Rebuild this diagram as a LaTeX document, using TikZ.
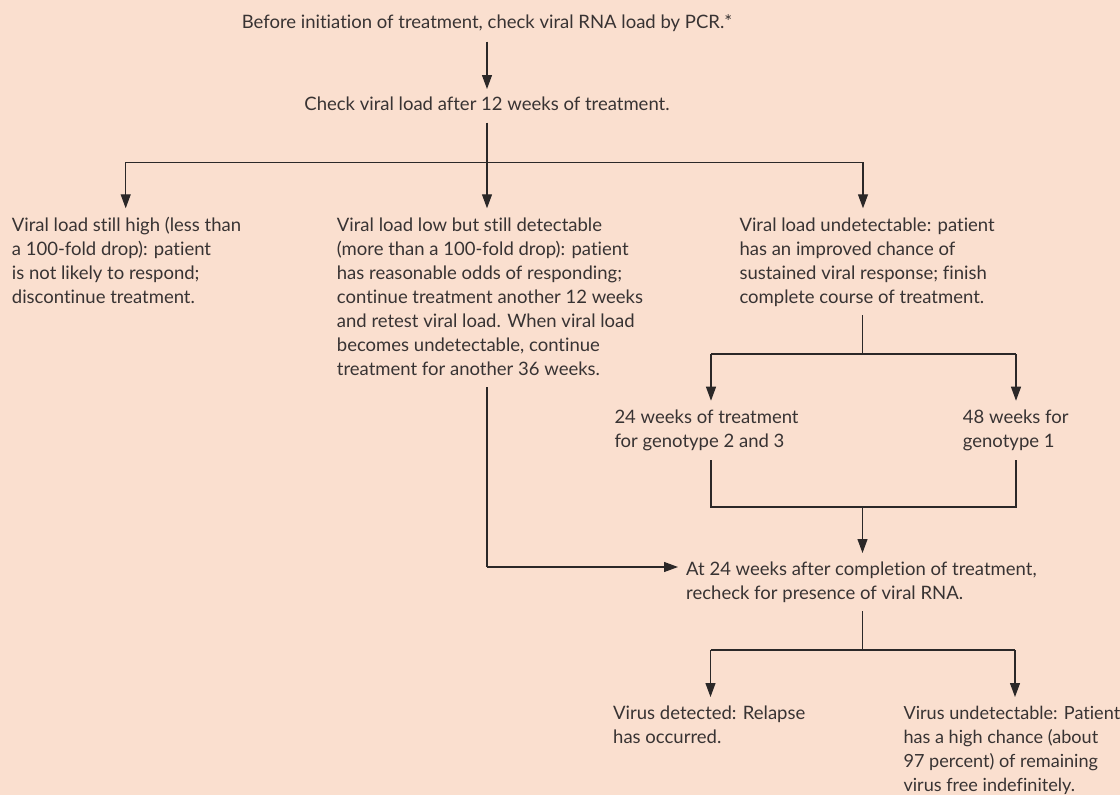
\documentclass[tikz,border=0pt]{standalone}
\usepackage{fontspec}
\setmainfont{Lato}[Ligatures={NoCommon}]
\usetikzlibrary{arrows.meta}
\definecolor{bg}{HTML}{FADFCF}
\definecolor{ink}{HTML}{383333}
\definecolor{wire}{HTML}{2B2828}
\tikzset{
  txt/.style={anchor=base west, align=left, inner sep=0pt, text=ink, font=\fontsize{18.5}{24}\selectfont},
  ctxt/.style={anchor=base, inner sep=0pt, text=ink, font=\fontsize{18.5}{24}\selectfont},
  wln/.style={draw=wire, line width=1.15pt},
  arr/.style={wln, -{Triangle[length=14pt,width=10pt]}},
}
\begin{document}
\begin{tikzpicture}[x=1pt,y=-1pt]
\fill[bg] (0,0) rectangle (1120,795);
\useasboundingbox (0,0) rectangle (1120,795);

% text nodes (anchored at the baseline of their last line)
\node[ctxt] (top) at (487,28) {Before initiation of treatment, check viral RNA load by PCR.*};
\node[ctxt] (check) at (487,110) {Check viral load after 12 weeks of treatment.};
\node[txt] (left) at (11.7,303) {Viral load still high (less than\\a 100-fold drop): patient\\is not likely to respond;\\discontinue treatment.};
\node[txt] (mid) at (336.7,375) {Viral load low but still detectable\\(more than a 100-fold drop): patient\\has reasonable odds of responding;\\continue treatment another 12 weeks\\and retest viral load. When viral load\\becomes undetectable, continue\\treatment for another 36 weeks.};
\node[txt] (right) at (739.3,303) {Viral load undetectable: patient\\has an improved chance of\\sustained viral response; finish\\complete course of treatment.};
\node[txt] (g23) at (614.3,447) {24 weeks of treatment\\for genotype 2 and 3};
\node[txt] (g1) at (962.7,447) {48 weeks for\\genotype 1};
\node[txt] (at24) at (686,599) {At 24 weeks after completion of treatment,\\recheck for presence of viral RNA.};
\node[txt] (det) at (613,743) {Virus detected: Relapse\\has occurred.};
\node[txt, font=\fontsize{18.1}{24}\selectfont] (und) at (903.3,791) {Virus undetectable: Patient\\has a high chance (about\\97 percent) of remaining\\virus free indefinitely.};

% junction coordinates
\coordinate (j1) at (487,162.3);
\coordinate (j1l) at (125.7,162.3);
\coordinate (j1r) at (863,162.3);
\coordinate (j2) at (862.5,354);
\coordinate (j2l) at (711,354);
\coordinate (j2r) at (1016,354);
\coordinate (j3l) at (711,507);
\coordinate (j3r) at (1016,507);
\coordinate (j3) at (862.5,507);
\coordinate (j4) at (487,567);
\coordinate (j5) at (862.5,650);
\coordinate (j5l) at (710.5,650);
\coordinate (j5r) at (1015,650);

% connectors
\draw[arr] ([yshift=-13.7pt]top.base) -- ([yshift=21pt]check.base);
\draw[wln] ([yshift=-12.7pt]check.base) -- (j1);
\draw[wln] (j1l) -- (j1r);
\draw[arr] (j1) -- (j1 |- 0,208.3);
\draw[arr] (j1l) -- (j1l |- 0,208.3);
\draw[arr] (j1r) -- (j1r |- 0,208.3);

\draw[wln] (j2 |- 0,315) -- (j2);
\draw[wln] (j2l) -- (j2r);
\draw[arr] (j2l) -- (j2l |- 0,400.7);
\draw[arr] (j2r) -- (j2r |- 0,400.7);

\draw[wln] (j3l |- 0,460) -- (j3l) -- (j3r) -- (j3r |- 0,460);
\draw[arr] (j3) -- (j3 |- 0,553);

\draw[wln] (j4 |- 0,387) -- (j4);
\draw[arr, shorten >=8pt] (j4) -- (j4 -| at24.west);

\draw[wln] (j5 |- 0,611) -- (j5);
\draw[wln] (j5l) -- (j5r);
\draw[arr] (j5l) -- (j5l |- 0,697);
\draw[arr] (j5r) -- (j5r |- 0,697);
\end{tikzpicture}
\end{document}
